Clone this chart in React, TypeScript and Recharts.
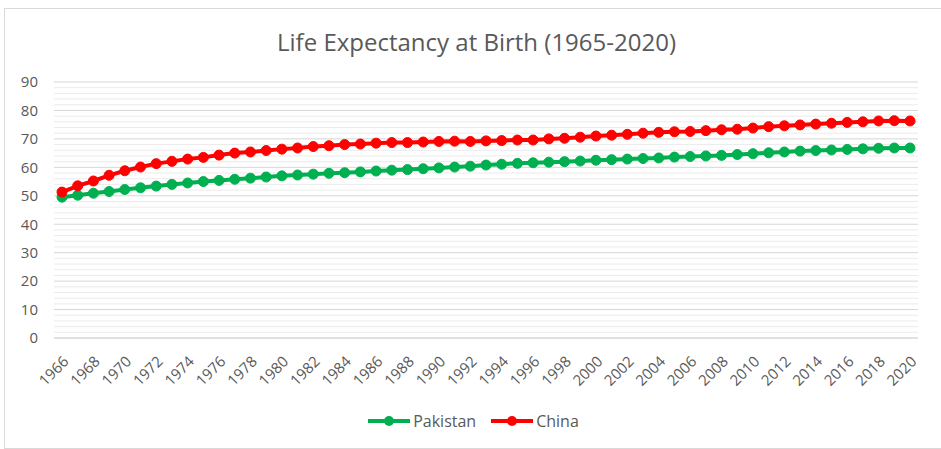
import { LineChart, Line, XAxis, YAxis, CartesianGrid, ReferenceLine } from 'recharts'

const years = [
  1966, 1967, 1968, 1969, 1970, 1971, 1972, 1973, 1974, 1975, 1976, 1977, 1978, 1979,
  1980, 1981, 1982, 1983, 1984, 1985, 1986, 1987, 1988, 1989, 1990, 1991, 1992, 1993,
  1994, 1995, 1996, 1997, 1998, 1999, 2000, 2001, 2002, 2003, 2004, 2005, 2006, 2007,
  2008, 2009, 2010, 2011, 2012, 2013, 2014, 2015, 2016, 2017, 2018, 2019, 2020,
]

const pakistan = [
  49.5, 50.2, 50.9, 51.5, 52.2, 52.8, 53.4, 54.0, 54.5, 55.0, 55.4, 55.8, 56.2, 56.6,
  57.0, 57.3, 57.6, 57.9, 58.1, 58.4, 58.7, 59.0, 59.2, 59.5, 59.8, 60.1, 60.4, 60.8,
  61.1, 61.4, 61.6, 61.8, 62.0, 62.2, 62.5, 62.7, 62.9, 63.1, 63.3, 63.6, 63.8, 64.0,
  64.2, 64.5, 64.8, 65.1, 65.4, 65.7, 65.9, 66.1, 66.3, 66.5, 66.7, 66.8, 66.8,
]

const china = [
  51.3, 53.5, 55.2, 57.2, 58.8, 60.1, 61.3, 62.1, 62.9, 63.5, 64.3, 65.0, 65.4, 65.9,
  66.4, 66.8, 67.3, 67.6, 68.0, 68.2, 68.5, 68.7, 68.7, 68.9, 69.1, 69.2, 69.1, 69.3,
  69.4, 69.6, 69.6, 70.0, 70.2, 70.6, 71.0, 71.3, 71.6, 72.0, 72.3, 72.5, 72.6, 72.9,
  73.2, 73.4, 73.8, 74.3, 74.6, 74.9, 75.2, 75.5, 75.8, 76.0, 76.3, 76.4, 76.3,
]

const yTicks = [0, 10, 20, 30, 40, 50, 60, 70, 80, 90]
// minor gridlines every 2 units, Excel style
const minorTicks = Array.from({ length: 46 }, (_, i) => i * 2).filter((v) => v % 10 !== 0)

const data = years.map((y, i) => ({ year: y, Pakistan: pakistan[i], China: china[i] }))

const GREEN = '#00b050'
const RED = '#ff0000'
const TEXT = '#595959'
const FONT = '"Open Sans", "Liberation Sans", sans-serif'

const series = [
  { name: 'Pakistan', color: GREEN },
  { name: 'China', color: RED },
]

export default function App() {
  return (
    <div style={{ position: 'absolute', left: 0, top: 0, width: 941, height: 449, background: '#fff', overflow: 'hidden' }}>
      <div style={{ position: 'absolute', left: 4, top: 8, width: 960, height: 439, border: '1px solid #d9d9d9' }} />
      <div style={{ position: 'absolute', left: 4, top: 27, width: 945, textAlign: 'center', fontFamily: FONT, fontSize: 24, color: TEXT, lineHeight: '30px' }}>
        Life Expectancy at Birth (1965-2020)
      </div>
      <div style={{ position: 'absolute', left: 0, top: 0 }}>
        <LineChart width={941} height={449} data={data} margin={{ top: 82, right: 23, bottom: 61, left: 14 }}>
          <CartesianGrid vertical={false} stroke="#d6d6d6" />
          {minorTicks.map((v) => (
            <ReferenceLine key={v} y={v} stroke="#ebebeb" />
          ))}
          <XAxis
            dataKey="year"
            interval={1}
            padding={{ left: 8, right: 8 }}
            tickLine={false}
            axisLine={{ stroke: '#d6d6d6' }}
            angle={-45}
            textAnchor="end"
            height={50}
            tickMargin={11}
            tick={{ fill: TEXT, fontSize: 15, fontFamily: FONT }}
          />
          <YAxis
            domain={[0, 90]}
            ticks={yTicks}
            width={40}
            tickLine={false}
            axisLine={false}
            tickMargin={10}
            tick={{ fill: TEXT, fontSize: 15, fontFamily: FONT }}
          />
          <Line dataKey="Pakistan" stroke={GREEN} strokeWidth={4} dot={{ r: 5, fill: GREEN, stroke: GREEN, strokeWidth: 1 }} isAnimationActive={false} />
          <Line dataKey="China" stroke={RED} strokeWidth={4} dot={{ r: 5, fill: RED, stroke: RED, strokeWidth: 1 }} isAnimationActive={false} />
        </LineChart>
      </div>
      <div style={{ position: 'absolute', left: 0, top: 410, width: 960, display: 'flex', justifyContent: 'center', alignItems: 'center', fontFamily: FONT, fontSize: 16, color: TEXT }}>
        {series.map((s) => (
          <div key={s.name} style={{ display: 'flex', alignItems: 'center', marginRight: 14 }}>
            <svg width={44} height={12}>
              <line x1={1} y1={6} x2={43} y2={6} stroke={s.color} strokeWidth={4} />
              <circle cx={22} cy={6} r={5} fill={s.color} />
            </svg>
            <span style={{ marginLeft: 2 }}>{s.name}</span>
          </div>
        ))}
      </div>
    </div>
  )
}
